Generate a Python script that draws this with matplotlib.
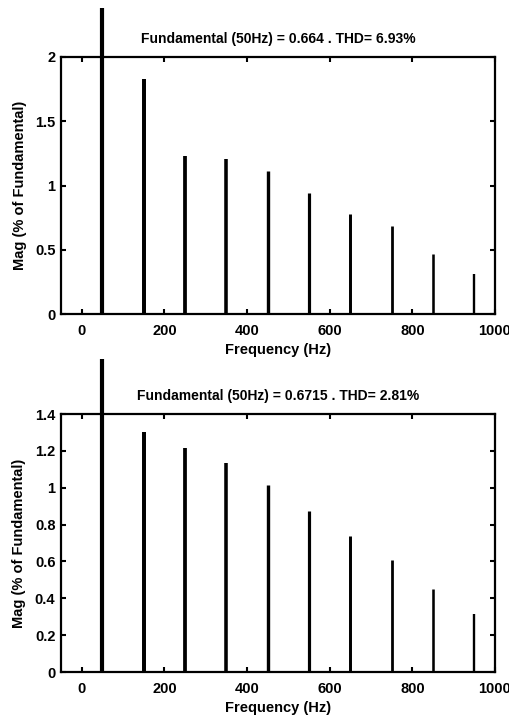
import numpy as np
import matplotlib.pyplot as plt

plt.rcParams['font.family'] = ['Liberation Sans', 'DejaVu Sans']
plt.rcParams['font.weight'] = 'bold'

# harmonic frequencies (Hz)
freqs = [50, 150, 250, 350, 450, 550, 650, 750, 850, 950]

# magnitudes, % of fundamental (fundamental bar runs past the top)
mag_a = [2.38, 1.83, 1.23, 1.21, 1.11, 0.945, 0.775, 0.688, 0.467, 0.311]
mag_b = [1.70, 1.305, 1.217, 1.133, 1.013, 0.872, 0.737, 0.606, 0.452, 0.317]

title_a = 'Fundamental (50Hz) = 0.664 . THD= 6.93%'
title_b = 'Fundamental (50Hz) = 0.6715 . THD= 2.81%'

fig = plt.figure(figsize=(5.10, 7.22), dpi=100)
W, H = 510, 722

# bars get a little thinner towards the high harmonics
widths = np.linspace(3.0, 1.7, len(freqs))


def spectrum(box, mags, ymax, yticks, ytl, title):
    l, t, r, b = box
    ax = fig.add_axes([l / W, 1 - b / H, (r - l) / W, (b - t) / H])
    ax.vlines(freqs[0], 0, mags[0], colors='k', lw=widths[0], clip_on=False, zorder=3)
    ax.vlines(freqs[1:], 0, mags[1:], colors='k', lw=widths[1:], zorder=3)
    ax.set_xlim(-50, 1000)
    ax.set_ylim(0, ymax)
    ax.set_xticks(range(0, 1001, 200))
    ax.set_yticks(yticks)
    ax.set_yticklabels(ytl)
    ax.tick_params(direction='in', top=True, right=True, length=3.5, width=1.5,
                   labelsize=10.5)
    ax.tick_params(axis='x', pad=7)
    ax.tick_params(axis='y', pad=4)
    for s in ax.spines.values():
        s.set_linewidth(1.6)
    ax.set_xlabel('Frequency (Hz)', fontsize=10.5, fontweight='bold', labelpad=4)
    ax.set_ylabel('Mag (% of Fundamental)', fontsize=10.5, fontweight='bold', labelpad=6)
    ax.set_title(title, fontsize=10, fontweight='bold', pad=10)
    return ax


spectrum((61, 57, 495, 314), mag_a, 2.0, [0, 0.5, 1, 1.5, 2],
         ['0', '0.5', '1', '1.5', '2'], title_a)
spectrum((61, 414, 495, 672), mag_b, 1.4, [0, 0.2, 0.4, 0.6, 0.8, 1, 1.2, 1.4],
         ['0', '0.2', '0.4', '0.6', '0.8', '1', '1.2', '1.4'], title_b)

fig.savefig('out.png', dpi=100)
